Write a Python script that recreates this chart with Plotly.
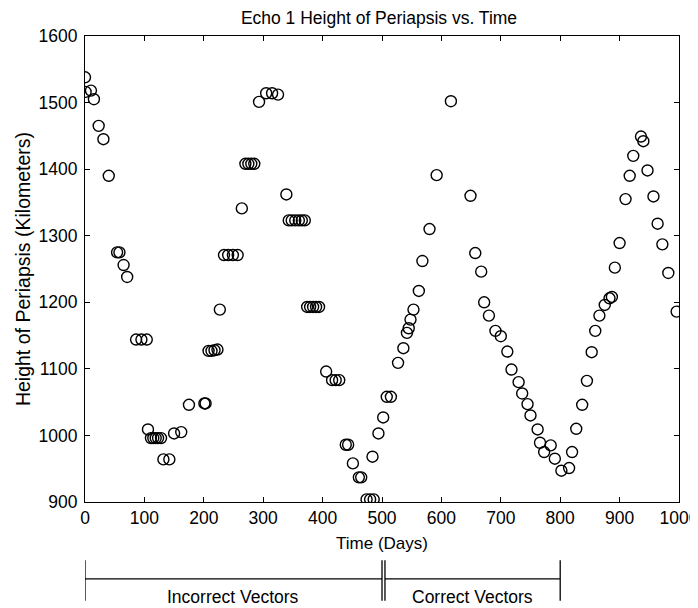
import plotly.graph_objects as go

# ---- data ----
days = [0, 1, 10, 15, 23, 31, 40, 54, 58, 65, 71,
        86, 95, 104, 106, 111, 115, 119, 123, 128, 132, 142, 150, 162, 175,
        201, 203, 208, 213, 218, 223, 227, 234, 241, 249, 257, 264,
        270, 275, 280, 285, 293, 305, 315, 325, 339,
        343, 348, 354, 360, 365, 370, 374, 379, 384, 389, 394,
        406, 416, 422, 428, 439, 443, 451, 461, 465, 474, 480, 486,
        484, 494, 502, 508, 515, 527, 536, 542, 545, 548, 553, 562, 568,
        580, 592, 616, 649, 657, 667, 672, 680, 691, 700, 711, 718,
        730, 736, 745, 750, 762, 766, 773, 784, 791, 802, 815, 820, 827,
        837, 845, 853, 859, 866, 875, 883, 887, 892, 900, 910, 917, 923,
        936, 940, 947, 957, 964, 972, 982, 996]
height_km = [1538, 1516, 1518, 1505, 1465, 1445, 1390, 1275, 1275, 1256, 1238,
             1144, 1144, 1144, 1009, 996, 996, 996, 996, 996, 964, 964, 1003, 1005, 1046,
             1048, 1048, 1127, 1127, 1128, 1129, 1189, 1271, 1271, 1271, 1271, 1341,
             1408, 1408, 1408, 1408, 1501, 1514, 1514, 1512, 1362,
             1323, 1323, 1323, 1323, 1323, 1323, 1193, 1193, 1193, 1193, 1193,
             1096, 1083, 1083, 1083, 986, 986, 958, 937, 937, 904, 904, 904,
             968, 1003, 1027, 1058, 1058, 1109, 1131, 1154, 1161, 1174, 1189, 1217, 1262,
             1310, 1391, 1502, 1360, 1274, 1246, 1200, 1180, 1157, 1149, 1126, 1099,
             1080, 1063, 1047, 1030, 1009, 989, 975, 985, 965, 947, 951, 975, 1010,
             1046, 1082, 1125, 1157, 1180, 1196, 1206, 1208, 1252, 1289, 1355, 1390, 1420,
             1449, 1442, 1398, 1359, 1318, 1287, 1244, 1186]

x_ticks = [0, 100, 200, 300, 400, 500, 600, 700, 800, 900, 1000]
y_ticks = [900, 1000, 1100, 1200, 1300, 1400, 1500, 1600]

# bracket under the axis: segment boundaries (days) and labels
bracket_bounds = [0, 500, 505, 800]
bracket_labels = ["Incorrect Vectors", "Correct Vectors"]
bracket_label_days = [249, 652]

FONT = "Liberation Sans, Arial, sans-serif"

fig = go.Figure()
fig.add_trace(go.Scatter(
    x=days, y=height_km, mode="markers",
    marker=dict(symbol="circle-open", size=11, color="black",
                line=dict(width=1.4, color="black")),
    showlegend=False, hoverinfo="x+y"))

axis_common = dict(showline=True, linecolor="black", linewidth=1, mirror="ticks",
                   ticks="inside", ticklen=5, tickcolor="black", showgrid=False,
                   zeroline=False, automargin=False, ticklabeloverflow="allow",
                   tickfont=dict(family=FONT, size=17.5, color="black"))

fig.update_xaxes(range=[0, 1000], tickvals=x_ticks, ticktext=[str(v) for v in x_ticks],
                 title=dict(text="Time (Days)", font=dict(family=FONT, size=17, color="black"),
                            standoff=10),
                 **axis_common)
fig.update_yaxes(range=[900, 1600], tickvals=y_ticks, ticktext=[str(v) for v in y_ticks],
                 ticklabelstandoff=3,
                 title=dict(text="Height of Periapsis (Kilometers)",
                            font=dict(family=FONT, size=19.5, color="black"), standoff=2),
                 **axis_common)

# bracket shapes
y_line = -0.165
y_top = -0.125
y_bot = -0.212
shapes = []
for d in bracket_bounds:
    shapes.append(dict(type="line", xref="x", yref="paper", x0=d, x1=d, y0=y_top, y1=y_bot,
                       line=dict(color="black", width=1.3)))
shapes.append(dict(type="line", xref="x", yref="paper", x0=bracket_bounds[0], x1=bracket_bounds[1],
                   y0=y_line, y1=y_line, line=dict(color="black", width=1.3)))
shapes.append(dict(type="line", xref="x", yref="paper", x0=bracket_bounds[2], x1=bracket_bounds[3],
                   y0=y_line, y1=y_line, line=dict(color="black", width=1.3)))

annotations = []
for lab, d in zip(bracket_labels, bracket_label_days):
    annotations.append(dict(text=lab, x=d, xref="x", y=-0.204, yref="paper",
                            showarrow=False, yanchor="middle",
                            font=dict(family=FONT, size=17.5, color="black")))

# page body has an 8px margin, so the figure is 8px smaller on each axis
fig.update_layout(
    width=690, height=600,
    margin=dict(l=77, r=18.5, t=28, b=106),
    paper_bgcolor="white", plot_bgcolor="white",
    title=dict(text="Echo 1 Height of Periapsis vs. Time", x=371 / 690, xanchor="center",
               y=1 - 9.5 / 600, yanchor="middle", yref="container",
               font=dict(family=FONT, size=17.5, color="black")),
    shapes=shapes, annotations=annotations,
)

fig.write_html("out.html")
